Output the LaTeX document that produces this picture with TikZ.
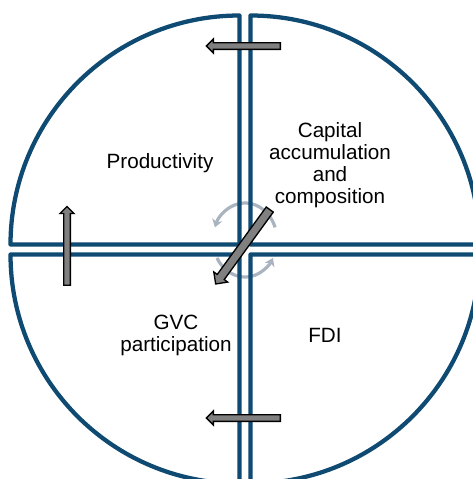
\documentclass[tikz,border=0pt]{standalone}
\usepackage{fontspec}
\setmainfont{Liberation Sans}
\usetikzlibrary{shapes.arrows,arrows.meta}
\definecolor{qblue}{RGB}{14,74,114}
\definecolor{cycgrey}{RGB}{170,180,192}
\definecolor{arrgrey}{RGB}{128,128,128}
\begin{document}
\begin{tikzpicture}[x=0.75pt,y=-0.75pt,
  sector/.style={draw=qblue,line width=3.2pt,line join=round},
  cyc/.style={draw=cycgrey,line width=2.4pt,-{Stealth[length=6pt,width=8pt]}},
  barrow/.style={single arrow,draw=black,fill=arrgrey,line width=1pt,inner sep=0pt,
    minimum width=0pt,single arrow head indent=0pt,text depth=0pt,text width=0pt},
  lbl/.style={font=\fontsize{15.5}{16.5}\selectfont,align=center,inner sep=0pt}]
\useasboundingbox (0,0) rectangle (473,479);
\begin{scope}
\clip (0,0) rectangle (473,479);
\coordinate (ctr) at (245,240);
% circular arrows
\draw[cyc] ([shift={(340:32 and 37)}]ctr) arc[start angle=340,end angle=200,x radius=32,y radius=37];
\draw[cyc] ([shift={(151:32 and 37)}]ctr) arc[start angle=151,end angle=29,x radius=32,y radius=37];
% sectors
\coordinate (ctl) at (239.5,244.5);
\coordinate (ctr2) at (250.5,244.5);
\coordinate (cbl) at (239.5,254.5);
\coordinate (cbr) at (250.5,254.5);
\draw[sector] (ctl) -- ++(-229,0) arc[start angle=180,end angle=270,radius=229] -- cycle;
\draw[sector] (ctr2) -- ++(229,0) arc[start angle=0,end angle=-90,radius=229] -- cycle;
\draw[sector] (cbl) -- ++(-229,0) arc[start angle=180,end angle=90,radius=229] -- cycle;
\draw[sector] (cbr) -- ++(229,0) arc[start angle=0,end angle=90,radius=229] -- cycle;
\end{scope}
% block arrows
\node[barrow,text height=4pt,minimum height=55.5pt,single arrow head extend=2.8pt,rotate=180] (atop) at (245,46) {};
\node[barrow,text height=4pt,minimum height=55.5pt,single arrow head extend=2.8pt,rotate=180] (abot) at (245,418) {};
\node[barrow,text height=4pt,minimum height=59pt,single arrow head extend=2.8pt,rotate=90] (aleft) at (67,247.5) {};
\node[barrow,text height=5.5pt,minimum height=69pt,single arrow head extend=3.2pt,rotate=234] (adiag) at (244,245) {};
% labels
\node[lbl] (prod) at (160,163) {Productivity};
\node[lbl] (cap) at (330,165) {Capital\\accumulation\\and\\composition};
\node[lbl] (gvc) at (176,335) {GVC\\participation};
\node[lbl] (fdi) at (325,335) {FDI};
\end{tikzpicture}
\end{document}
